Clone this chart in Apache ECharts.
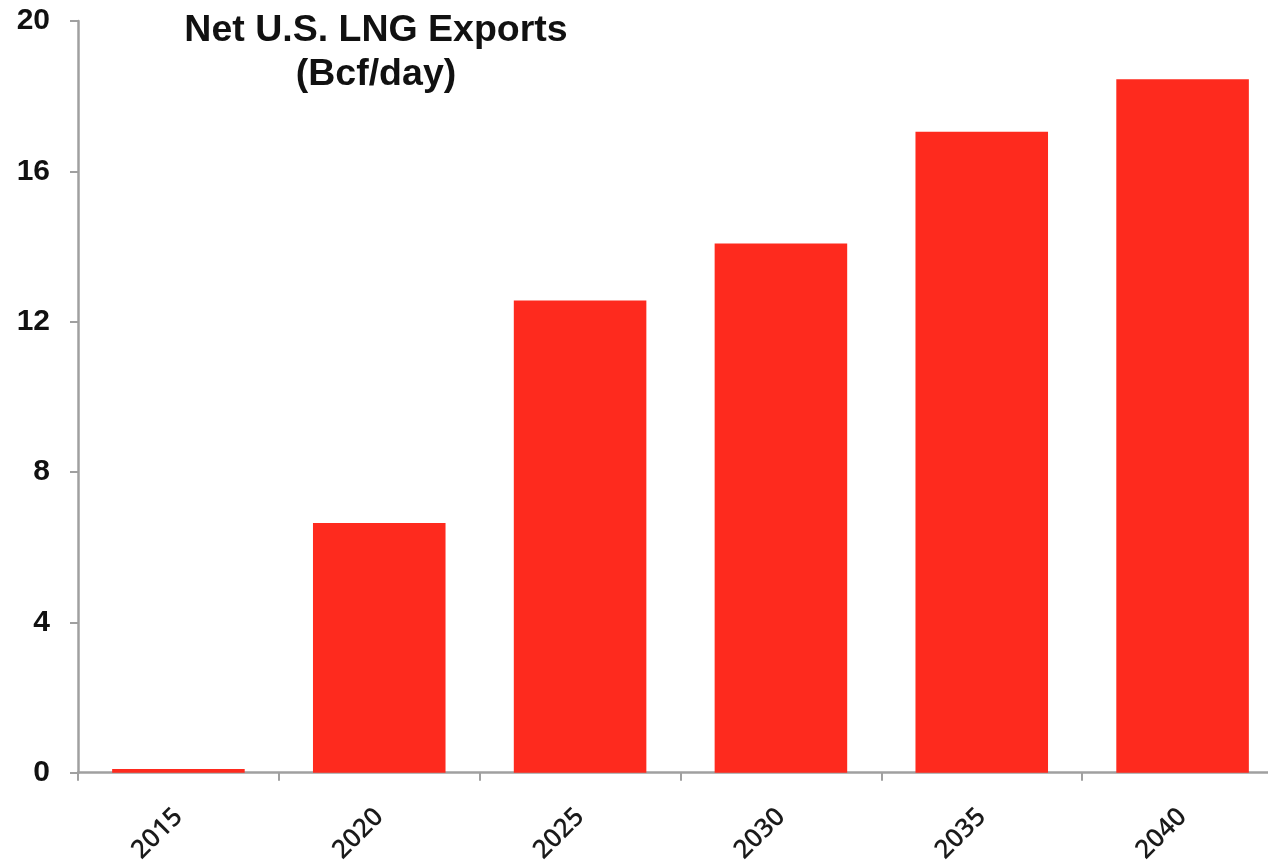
<!DOCTYPE html>
<html>
<head>
<meta charset="utf-8">
<script src="https://cdn.jsdelivr.net/npm/echarts@6/dist/echarts.min.js"></script>
<style>
html,body{margin:0;padding:0;background:#fff;overflow:hidden;width:1268px;height:866px;}
#chart{width:1290px;height:866px;}
</style>
</head>
<body>
<div id="chart"></div>
<script>
var categories = ['2015', '2020', '2025', '2030', '2035', '2040'];
var exports = [0.1, 6.64, 12.56, 14.08, 17.05, 18.45];
var yTicks = [0, 4, 8, 12, 16, 20];
var titleText = 'Net U.S. LNG Exports\n(Bcf/day)';

var chart = echarts.init(document.getElementById('chart'));
chart.setOption({
  animation: false,
  backgroundColor: '#ffffff',
  title: {
    text: titleText,
    left: 371,
    top: 4,
    textAlign: 'center',
    textStyle: {
      fontFamily: 'Liberation Sans, Arial, sans-serif',
      fontWeight: 'bold',
      fontSize: 37.5,
      lineHeight: 44,
      color: '#111111'
    }
  },
  grid: { left: 78, top: 21, width: 1205, bottom: 92, containLabel: false },
  xAxis: {
    type: 'category',
    data: categories,
    axisLine: { lineStyle: { color: '#a0a0a0', width: 2.5 } },
    axisTick: { show: true, length: 8, lineStyle: { color: '#a0a0a0', width: 2 } },
    axisLabel: {
      rotate: 45,
      margin: 40,
      fontFamily: 'Open Sans, sans-serif',
      fontWeight: 600,
      fontSize: 26,
      color: '#1a1a1a'
    }
  },
  yAxis: {
    type: 'value',
    min: yTicks[0],
    max: yTicks[yTicks.length - 1],
    interval: 4,
    splitLine: { show: false },
    axisLine: { show: true, lineStyle: { color: '#a0a0a0', width: 2.5 } },
    axisTick: { show: true, length: 8, lineStyle: { color: '#a0a0a0', width: 2 } },
    axisLabel: {
      margin: 28,
      fontFamily: 'Liberation Sans, Arial, sans-serif',
      fontWeight: 'bold',
      fontSize: 30,
      color: '#111111'
    }
  },
  series: [{
    type: 'bar',
    data: exports,
    barWidth: '66%',
    itemStyle: { color: '#fe2a1e' }
  }]
});
</script>
</body>
</html>
